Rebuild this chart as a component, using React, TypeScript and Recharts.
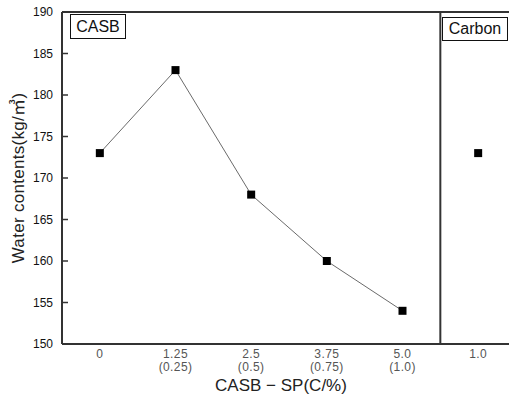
import { LineChart, Line, XAxis, YAxis, ReferenceLine } from "recharts"

const categories = ["0", "1.25", "2.5", "3.75", "5.0", "1.0"]
const subLabels = ["", "(0.25)", "(0.5)", "(0.75)", "(1.0)", ""]
const casbValues = [173, 183, 168, 160, 154, null]
const carbonValues = [null, null, null, null, null, 173]
const yTicks = [150, 155, 160, 165, 170, 175, 180, 185, 190]

const data = categories.map((c, i) => ({ idx: i, casb: casbValues[i], carbon: carbonValues[i] }))

const font = "'Liberation Sans', Arial, 'Noto Sans CJK KR', sans-serif"
const axisColor = "#333"

const SquareDot = (props: any) => {
  const { cx, cy, index } = props
  if (cy == null || cx == null) return <g key={index} />
  return <rect key={index} x={cx - 4} y={cy - 4} width={8} height={8} fill="#000" />
}

const XTick = (props: any) => {
  const { x, y, payload } = props
  const i = payload.value
  return (
    <g>
      <text x={x} y={y} dy={6} textAnchor="middle" fontSize={12} fill="#555" fontFamily={font} letterSpacing={0.4}>
        {categories[i]}
      </text>
      {subLabels[i] && (
        <text x={x} y={y} dy={19} textAnchor="middle" fontSize={12} fill="#555" fontFamily={font} letterSpacing={0.4}>
          {subLabels[i]}
        </text>
      )}
    </g>
  )
}

export default function App() {
  return (
    <div style={{ position: "absolute", left: 0, top: 0, width: 509, height: 401, overflow: "hidden", background: "#fff", fontFamily: font }}>
      <LineChart width={516} height={401} data={data} margin={{ top: 12, right: 0, bottom: 0, left: 0 }}>
        <XAxis
          dataKey="idx"
          type="number"
          domain={[-0.5, 5.5]}
          ticks={[0, 1, 2, 3, 4, 5]}
          tickLine={false}
          tick={<XTick />}
          height={57}
          axisLine={{ stroke: axisColor, strokeWidth: 2 }}
          label={{ value: "CASB − SP(C/%)", position: "insideBottom", offset: 10, dx: -8, fontSize: 17, fill: "#222", fontFamily: font }}
        />
        <YAxis
          domain={[150, 190]}
          ticks={yTicks}
          width={62}
          tickSize={-6}
          tickMargin={15}
          tickLine={{ stroke: axisColor, strokeWidth: 1.5 }}
          axisLine={{ stroke: axisColor, strokeWidth: 2 }}
          tick={{ fontSize: 12, fill: "#111", fontFamily: font }}
          label={{ value: "Water contents(kg/㎥)", angle: -90, position: "insideLeft", offset: 18, fontSize: 17, fill: "#222", fontFamily: font, style: { textAnchor: "middle", letterSpacing: 0.3 } }}
        />
        <ReferenceLine y={190} stroke={axisColor} strokeWidth={2} />
        <ReferenceLine x={4.5} stroke={axisColor} strokeWidth={2} />
        <Line dataKey="casb" stroke="#444" strokeWidth={0.8} dot={<SquareDot />} isAnimationActive={false} connectNulls={false} />
        <Line dataKey="carbon" stroke="none" dot={<SquareDot />} isAnimationActive={false} />
      </LineChart>
      <div style={{ position: "absolute", left: 70, top: 14, width: 54, height: 23, border: "1.5px solid #111", fontSize: 16, lineHeight: "23px", textAlign: "center", color: "#111" }}>
        CASB
      </div>
      <div style={{ position: "absolute", left: 442, top: 17, width: 64, height: 22, border: "1.5px solid #111", fontSize: 16, lineHeight: "22px", textAlign: "center", color: "#111" }}>
        Carbon
      </div>
    </div>
  )
}
